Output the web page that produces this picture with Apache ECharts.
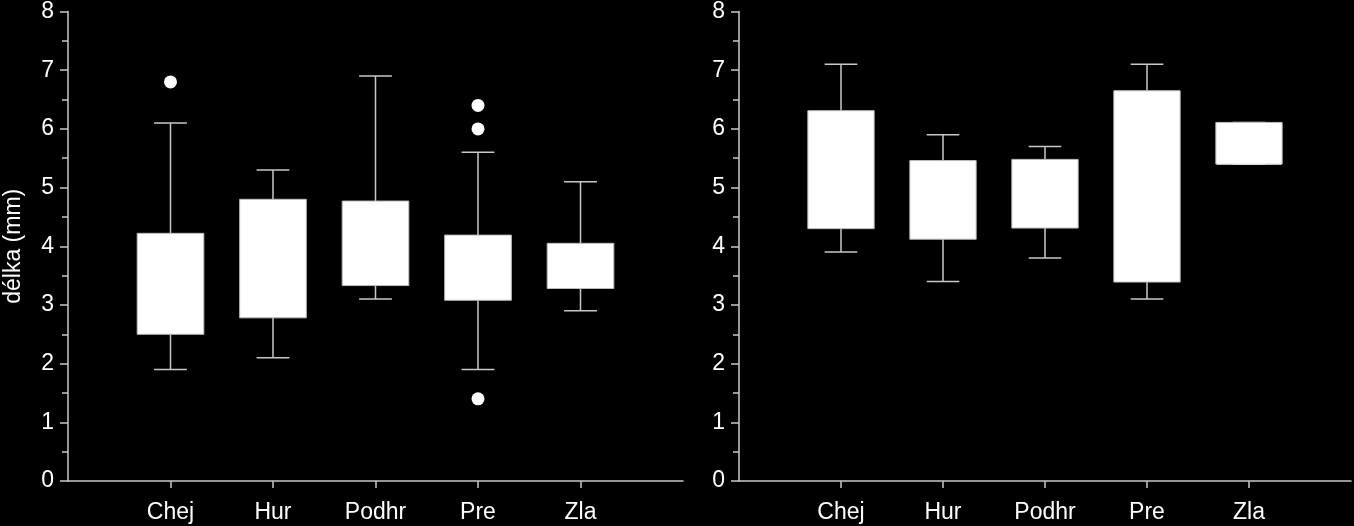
<!DOCTYPE html>
<html>
<head>
<meta charset="utf-8">
<script src="https://cdn.jsdelivr.net/npm/echarts@6/dist/echarts.min.js"></script>
<style>
html,body{margin:0;padding:0;background:#000;}
#c{width:1354px;height:526px;}
</style>
</head>
<body>
<div id="c"></div>
<script>
var categories = ['Chej', 'Hur', 'Podhr', 'Pre', 'Zla'];
var yTicks = ['0', '1', '2', '3', '4', '5', '6', '7', '8'];

// left panel
var leftMin = [1.9, 2.1, 3.1, 1.9, 2.9];
var leftQ1 = [2.5, 2.78, 3.33, 3.08, 3.28];
var leftMed = [3.08, 2.96, 4.17, 3.87, 3.81];
var leftQ3 = [4.22, 4.8, 4.77, 4.19, 4.05];
var leftMax = [6.1, 5.3, 6.9, 5.6, 5.1];
var leftOutlierCat = ['Chej', 'Pre', 'Pre', 'Pre'];
var leftOutlierVal = [6.8, 6.4, 6.0, 1.4];

// right panel
var rightMin = [3.9, 3.4, 3.8, 3.1, 5.4];
var rightQ1 = [4.3, 4.12, 4.31, 3.39, 5.4];
var rightMed = [5.91, 4.4, 5.24, 5.27, 5.4];
var rightQ3 = [6.31, 5.46, 5.48, 6.65, 6.11];
var rightMax = [7.1, 5.9, 5.7, 7.1, 6.11];

var xData = [''].concat(categories).concat(['']);

function boxData(mn, q1, md, q3, mx) {
  return categories.map(function (c, i) {
    return [i + 1, mn[i], q1[i], md[i], q3[i], mx[i]];
  });
}

var lineCol = '#c8c8c8';

function renderBox(params, api) {
  var x = api.value(0);
  var p0 = api.coord([0, 0]);
  var p1 = api.coord([1, 0]);
  var step = p1[0] - p0[0];
  var hw = step * 0.325;
  var cw = step * 0.16;
  var pMin = api.coord([x, api.value(1)]);
  var pQ1 = api.coord([x, api.value(2)]);
  var pMed = api.coord([x, api.value(3)]);
  var pQ3 = api.coord([x, api.value(4)]);
  var pMax = api.coord([x, api.value(5)]);
  var cx = pMin[0];
  var ls = {stroke: lineCol, lineWidth: 1.5};
  return {
    type: 'group',
    children: [
      {type: 'line', shape: {x1: cx, y1: pMax[1], x2: cx, y2: pQ3[1]}, style: ls},
      {type: 'line', shape: {x1: cx, y1: pQ1[1], x2: cx, y2: pMin[1]}, style: ls},
      {type: 'line', shape: {x1: cx - cw, y1: pMax[1], x2: cx + cw, y2: pMax[1]}, style: ls},
      {type: 'line', shape: {x1: cx - cw, y1: pMin[1], x2: cx + cw, y2: pMin[1]}, style: ls},
      {type: 'rect', shape: {x: cx - hw, y: pQ3[1], width: hw * 2, height: pQ1[1] - pQ3[1]},
        style: {fill: '#ffffff', stroke: '#bdbdbd', lineWidth: 1}},
      {type: 'line', shape: {x1: cx - hw + 1, y1: pMed[1], x2: cx + hw - 1, y2: pMed[1]},
        style: {stroke: '#ffffff', lineWidth: 1}}
    ]
  };
}

var font = 'Liberation Sans, Arial, sans-serif';

function xAxisCfg(gi) {
  return {
    type: 'category', gridIndex: gi, data: xData, boundaryGap: false,
    axisLine: {show: true, lineStyle: {color: lineCol, width: 1.5}},
    axisTick: {show: true, length: 7, lineStyle: {color: lineCol, width: 1.5},
      interval: function (i) { return i > 0 && i < xData.length - 1; }},
    axisLabel: {color: '#ffffff', fontSize: 23, fontFamily: font, margin: 20, interval: 0},
    splitLine: {show: false}
  };
}
function yAxisCfg(gi, withName) {
  var c = {
    type: 'value', gridIndex: gi, min: 0, max: 8, interval: 1,
    axisLine: {show: true, lineStyle: {color: lineCol, width: 1.5}},
    axisTick: {show: true, length: 8, lineStyle: {color: lineCol, width: 1.5}},
    minorTick: {show: true, splitNumber: 2, length: 6, lineStyle: {color: lineCol, width: 1.5}},
    axisLabel: {color: '#ffffff', fontSize: 23, fontFamily: font, margin: 14,
      formatter: function (v) { return yTicks[Math.round(v)]; }},
    splitLine: {show: false}
  };
  if (withName) {
    c.name = 'délka (mm)';
    c.nameLocation = 'middle';
    c.nameGap = 43;
    c.nameTextStyle = {color: '#ffffff', fontSize: 23, fontFamily: font};
  }
  return c;
}

var chart = echarts.init(document.getElementById('c'));
chart.setOption({
  backgroundColor: '#000000',
  animation: false,
  grid: [
    {left: 68, top: 10, width: 615, bottom: 45},
    {left: 739, top: 10, width: 615, bottom: 45}
  ],
  xAxis: [xAxisCfg(0), xAxisCfg(1)],
  yAxis: [yAxisCfg(0, true), yAxisCfg(1, false)],
  series: [
    {type: 'custom', xAxisIndex: 0, yAxisIndex: 0, renderItem: renderBox,
      data: boxData(leftMin, leftQ1, leftMed, leftQ3, leftMax)},
    {type: 'custom', xAxisIndex: 1, yAxisIndex: 1, renderItem: renderBox,
      data: boxData(rightMin, rightQ1, rightMed, rightQ3, rightMax)},
    {type: 'scatter', xAxisIndex: 0, yAxisIndex: 0, symbol: 'circle', symbolSize: 13,
      itemStyle: {color: '#ffffff', opacity: 1},
      data: leftOutlierCat.map(function (c, i) { return [categories.indexOf(c) + 1, leftOutlierVal[i]]; })}
  ]
});
</script>
</body>
</html>
